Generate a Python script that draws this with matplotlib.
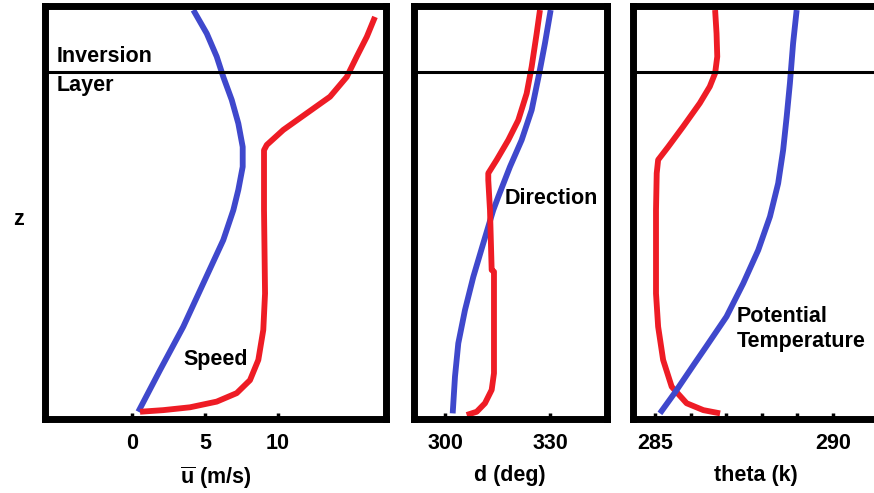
import matplotlib
matplotlib.use("Agg")
import matplotlib.pyplot as plt

plt.rcParams['font.family'] = ['Liberation Sans', 'DejaVu Sans']
plt.rcParams['font.weight'] = 'bold'
plt.rcParams['mathtext.fontset'] = 'custom'
plt.rcParams['mathtext.rm'] = 'Liberation Sans:bold'
plt.rcParams['mathtext.bf'] = 'Liberation Sans:bold'
plt.rcParams['mathtext.it'] = 'Liberation Sans:bold'

RED = '#ee1c25'
BLUE = '#3f48cc'

# ---- data (height z in arbitrary units 0..100) ----
inversion_z = 84.7

# Panel 1: wind speed
speed_blue_u = [4.20, 5.12, 5.80, 6.25, 6.83, 7.28, 7.58, 7.58, 7.28, 6.94, 6.25, 4.88, 3.51, 1.92, 0.43]
speed_blue_z = [100, 94.2, 88.5, 83.5, 77.8, 72.0, 66.2, 61.3, 55.6, 50.6, 43.2, 32.5, 21.8, 11.1, 0.8]
speed_red_u = [16.64, 16.08, 15.39, 14.71, 13.56, 11.96, 10.36, 9.23, 9.04, 9.04, 9.11, 8.99,
               8.65, 8.08, 7.17, 5.80, 3.97, 2.14, 0.55]
speed_red_z = [98.3, 93.4, 88.5, 83.5, 78.6, 74.5, 70.4, 66.7, 65.4, 50.6, 30.0, 21.0,
               13.6, 8.6, 5.4, 3.3, 1.9, 1.2, 0.8]

# Panel 2: wind direction
dir_blue_d = [330.2, 328.57, 326.94, 324.77, 321.91, 318.57, 315.23, 313.8, 310.94, 308.09,
              305.71, 303.8, 302.86, 302.2]
dir_blue_z = [100, 91.8, 84.4, 75.3, 67.9, 61.3, 53.9, 50.6, 42.4, 34.1, 25.9, 17.7, 9.5, 0.4]
dir_red_d = [327.14, 326.2, 324.77, 323.34, 320.94, 318.09, 314.77, 312.37, 312.37, 312.86,
             313.34, 314.0, 314.0, 313.34, 311.43, 309.06, 306.2]
dir_red_z = [100, 94.2, 86.0, 79.4, 72.8, 67.9, 63.0, 59.7, 58.0, 50.6,
             35.8, 35.4, 10.3, 6.2, 2.9, 0.8, 0.0]

# Panel 3: potential temperature
theta_red_t = [286.69, 286.73, 286.75, 286.69, 286.54, 286.26, 285.79, 285.37, 285.09, 285.05,
               285.03, 285.03, 285.09, 285.23, 285.47, 285.89, 286.36, 286.83]
theta_red_z = [100, 94.2, 88.5, 84.4, 81.1, 77.0, 71.2, 66.2, 63.0, 59.7,
               50.6, 30.0, 21.8, 13.6, 7.0, 2.9, 1.2, 0.4]
theta_blue_t = [288.98, 288.88, 288.79, 288.70, 288.60, 288.46, 288.23, 287.90, 287.48, 287.01,
                286.44, 286.12, 285.55, 285.14]
theta_blue_z = [100, 91.8, 81.9, 73.7, 65.4, 57.2, 49.0, 40.7, 32.5, 24.3, 16.9, 12.8, 5.4, 0.4]

speed_ticks = [0, 5, 10]
dir_ticks = [300, 330]
theta_ticks = [285, 286, 287, 288, 289, 290]
theta_ticklabels = ['285', '', '', '', '', '290']

W, H = 874, 493
fig = plt.figure(figsize=(W / 100, H / 100), dpi=100)

def make_ax(x0, x1, y_top, y_bot):
    return fig.add_axes([x0 / W, 1 - y_bot / H, (x1 - x0) / W, (y_bot - y_top) / H])

ylim = (-0.99, 101.0)
FS = 15.5
LW = 4.2
style = dict(lw=LW, solid_capstyle='butt', solid_joinstyle='round')

ax1 = make_ax(45, 385.5, 6, 419)
ax2 = make_ax(413.5, 607, 6, 419)
ax3 = make_ax(632.5, 880, 6, 419)

ax1.plot(speed_blue_u, speed_blue_z, color=BLUE, **style)
ax1.plot(speed_red_u, speed_red_z, color=RED, **style)
ax1.set_xlim(-5.96, 17.36)
ax1.set_xticks(speed_ticks)
ax1.set_xlabel(r'$\overline{\mathrm{u}}$ (m/s)', fontsize=FS, fontweight='bold', labelpad=8)

ax2.plot(dir_blue_d, dir_blue_z, color=BLUE, **style)
ax2.plot(dir_red_d, dir_red_z, color=RED, **style)
ax2.set_xlim(291.0, 346.3)
ax2.set_xticks(dir_ticks)
ax2.set_xlabel('d (deg)', fontsize=FS, fontweight='bold', labelpad=8)

ax3.plot(theta_red_t, theta_red_z, color=RED, **style)
ax3.plot(theta_blue_t, theta_blue_z, color=BLUE, **style)
ax3.set_xlim(284.37, 291.32)
ax3.set_xticks(theta_ticks)
ax3.set_xticklabels(theta_ticklabels)
ax3.set_xlabel('theta (k)', fontsize=FS, fontweight='bold', labelpad=8)

for ax in (ax1, ax2, ax3):
    ax.set_ylim(*ylim)
    ax.set_yticks([])
    ax.axhline(inversion_z, color='black', lw=2.2)
    for s in ax.spines.values():
        s.set_linewidth(5)
        s.set_color('black')
    ax.tick_params(axis='x', direction='in', length=4, width=2.5, pad=10,
                   labelsize=FS)
    for lbl in ax.get_xticklabels():
        lbl.set_fontweight('bold')

def ptext(x, y, s, ha='left'):
    fig.text(x / W, 1 - y / H, s, fontsize=FS, fontweight='bold', ha=ha, va='center')

ptext(57, 57, 'Inversion')
ptext(57, 85, 'Layer')
ptext(183, 359, 'Speed')
ptext(505, 198, 'Direction')
ptext(737, 316, 'Potential')
ptext(737, 342, 'Temperature')
ptext(18, 220, 'z', ha='center')

fig.savefig('out.png', dpi=100)
